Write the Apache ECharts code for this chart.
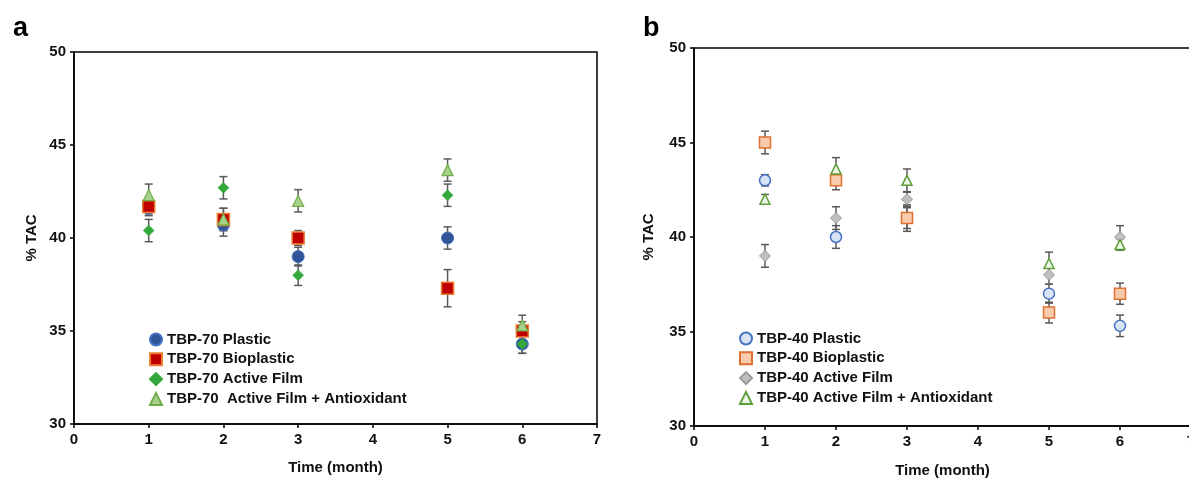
<!DOCTYPE html>
<html>
<head>
<meta charset="utf-8">
<script src="https://cdn.jsdelivr.net/npm/echarts@6/dist/echarts.min.js"></script>
<style>
  html, body { margin: 0; padding: 0; background: #fff; }
  #chart { width: 1189px; height: 479px; }
</style>
</head>
<body>
<div id="chart"></div>
<script>
// months sampled
const months = [1, 2, 3, 5, 6];

// panel a (TBP-70)
const aPlastic = [41.6, 40.7, 39.0, 40.0, 34.3];
const aPlasticErr = [0.4, 0.6, 0.5, 0.6, 0.5];
const aBio = [41.7, 41.0, 40.0, 37.3, 35.0];
const aBioErr = [0.4, 0.6, 0.4, 1.0, 0.5];
const aActive = [40.4, 42.7, 38.0, 42.3, 34.3];
const aActiveErr = [0.6, 0.6, 0.55, 0.6, 0.5];
const aAntiox = [42.3, 41.0, 42.0, 43.65, 35.3];
const aAntioxErr = [0.6, 0.6, 0.6, 0.6, 0.55];

// panel b (TBP-40)
const bPlastic = [43.0, 40.0, 41.0, 37.0, 35.3];
const bPlasticErr = [0.3, 0.6, 0.55, 0.5, 0.57];
const bBio = [45.0, 43.0, 41.0, 36.0, 37.0];
const bBioErr = [0.6, 0.5, 0.7, 0.55, 0.56];
const bActive = [39.0, 41.0, 42.0, 38.0, 40.0];
const bActiveErr = [0.6, 0.6, 0.37, 0.5, 0.6];
const bAntiox = [42.0, 43.6, 43.0, 38.6, 39.6];
const bAntioxErr = [0.25, 0.6, 0.6, 0.6, 0.3];

const FONT = 'Liberation Sans';
const txt = { fontFamily: FONT, fontWeight: 'bold', fontSize: 15, color: '#111' };

const chart = echarts.init(document.getElementById('chart'));

const pts = (ys) => months.map((m, i) => [m, ys[i]]);

function errSeries(idx, ys, errs) {
  return {
    type: 'custom',
    xAxisIndex: idx, yAxisIndex: idx,
    z: 1,
    silent: true,
    data: months.map((m, i) => [m, ys[i], errs[i]]),
    renderItem: (params, api) => {
      const x = api.value(0), y = api.value(1), e = api.value(2);
      const hi = api.coord([x, y + e]);
      const lo = api.coord([x, y - e]);
      const w = 4;
      const style = { stroke: '#5a5a5a', lineWidth: 1.5 };
      return {
        type: 'group',
        children: [
          { type: 'line', shape: { x1: hi[0], y1: hi[1], x2: lo[0], y2: lo[1] }, style },
          { type: 'line', shape: { x1: hi[0] - w, y1: hi[1], x2: hi[0] + w, y2: hi[1] }, style },
          { type: 'line', shape: { x1: lo[0] - w, y1: lo[1], x2: lo[0] + w, y2: lo[1] }, style }
        ]
      };
    }
  };
}

function scat(idx, name, ys, symbol, size, fill, border, bw) {
  return {
    type: 'scatter', name,
    xAxisIndex: idx, yAxisIndex: idx,
    z: 3,
    symbol, symbolSize: size,
    itemStyle: { color: fill, borderColor: border, borderWidth: bw, opacity: 1 },
    data: pts(ys)
  };
}

function xAx(idx, gap) {
  return {
    gridIndex: idx, type: 'value', min: 0, max: 7, interval: 1,
    name: 'Time (month)', nameLocation: 'middle', nameGap: gap,
    nameTextStyle: txt,
    axisLine: { lineStyle: { color: '#000', width: 1.5 } },
    axisTick: { show: true, length: 4, lineStyle: { color: '#000', width: 1.5 } },
    axisLabel: Object.assign({ margin: 8 }, txt),
    splitLine: { show: false }
  };
}
function yAx(idx, gap) {
  return {
    gridIndex: idx, type: 'value', min: 30, max: 50, interval: 5,
    name: '% TAC', nameLocation: 'middle', nameGap: gap, nameRotate: 90,
    nameTextStyle: txt,
    axisLine: { lineStyle: { color: '#000', width: 1.5 } },
    axisTick: { show: true, length: 4, lineStyle: { color: '#000', width: 1.5 } },
    axisLabel: Object.assign({ margin: 8 }, txt),
    splitLine: { show: false }
  };
}

const legendText = { fontFamily: FONT, fontWeight: 'bold', fontSize: 15, color: '#111', lineHeight: 15 };

chart.setOption({
  backgroundColor: '#fff',
  animation: false,
  title: [
    { text: 'a', left: 8, top: 10, textStyle: { fontFamily: FONT, fontWeight: 'bold', fontSize: 27, color: '#000' } },
    { text: 'b', left: 638, top: 10, textStyle: { fontFamily: FONT, fontWeight: 'bold', fontSize: 27, color: '#000' } }
  ],
  grid: [
    { left: 74, top: 52, width: 523, height: 372, outerBoundsMode: 'none', show: true, borderColor: '#000', borderWidth: 1.5, backgroundColor: 'transparent' },
    { left: 694, top: 48, width: 497, height: 378, outerBoundsMode: 'none', show: true, borderColor: '#000', borderWidth: 1.5, backgroundColor: 'transparent' }
  ],
  xAxis: [xAx(0, 36), xAx(1, 37)],
  yAxis: [yAx(0, 35), yAx(1, 38)],
  legend: [
    {
      orient: 'vertical', left: 149, top: 332, itemGap: 4.8, itemWidth: 12, itemHeight: 12,
      textStyle: legendText, padding: 0,
      data: ['TBP-70 Plastic', 'TBP-70 Bioplastic', 'TBP-70 Active Film', 'TBP-70  Active Film + Antioxidant']
    },
    {
      orient: 'vertical', left: 739, top: 331, itemGap: 4.8, itemWidth: 12, itemHeight: 12,
      textStyle: legendText, padding: 0,
      data: ['TBP-40 Plastic', 'TBP-40 Bioplastic', 'TBP-40 Active Film', 'TBP-40 Active Film + Antioxidant']
    }
  ],
  series: [
    errSeries(0, aPlastic, aPlasticErr),
    errSeries(0, aBio, aBioErr),
    errSeries(0, aActive, aActiveErr),
    errSeries(0, aAntiox, aAntioxErr),
    scat(0, 'TBP-70 Plastic', aPlastic, 'circle', 12, '#2f5597', '#4472c4', 1),
    scat(0, 'TBP-70 Bioplastic', aBio, 'rect', 12, '#c00000', '#ed7d31', 1.5),
    scat(0, 'TBP-70 Active Film', aActive, 'diamond', 11, '#35a83c', '#35a83c', 0.5),
    scat(0, 'TBP-70  Active Film + Antioxidant', aAntiox, 'triangle', 11, '#a9d18e', '#70ad47', 1.2),

    errSeries(1, bPlastic, bPlasticErr),
    errSeries(1, bBio, bBioErr),
    errSeries(1, bActive, bActiveErr),
    errSeries(1, bAntiox, bAntioxErr),
    scat(1, 'TBP-40 Plastic', bPlastic, 'circle', 11, '#dae3f3', '#4472c4', 1.5),
    scat(1, 'TBP-40 Bioplastic', bBio, 'rect', 11, '#f8cbad', '#e07030', 1.5),
    scat(1, 'TBP-40 Active Film', bActive, 'diamond', 11, '#bfbfbf', '#9a9a9a', 1),
    scat(1, 'TBP-40 Active Film + Antioxidant', bAntiox, 'triangle', 10, '#eef6e8', '#5e9e3a', 1.5)
  ]
});
</script>
</body>
</html>
